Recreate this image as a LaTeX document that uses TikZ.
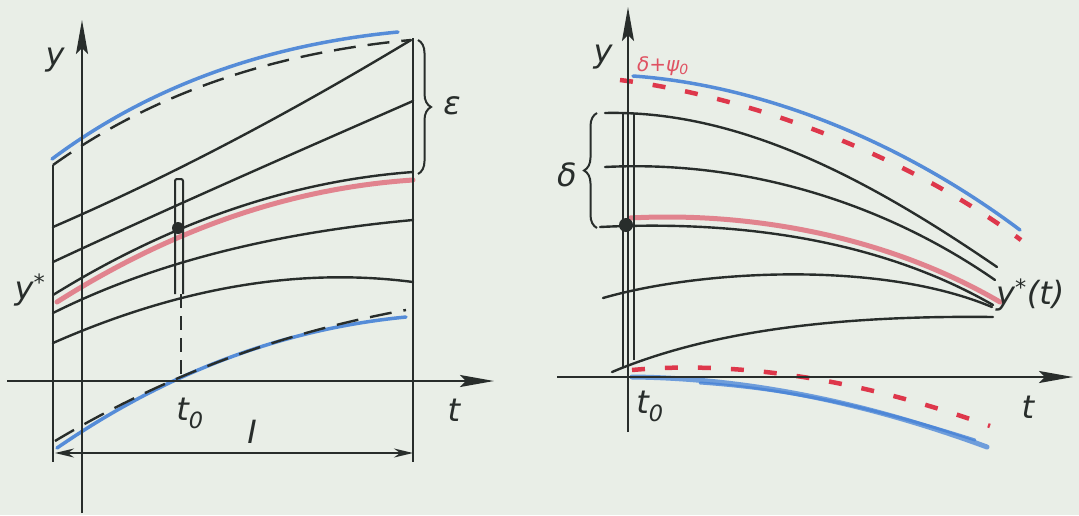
\documentclass[tikz,border=0pt]{standalone}
\usepackage{fontspec}
\newfontfamily\lab{DejaVu Sans}
\usetikzlibrary{arrows.meta,decorations.pathreplacing}
\definecolor{paper}{RGB}{233,238,231}
\definecolor{ink}{RGB}{40,45,43}
\definecolor{pen}{RGB}{70,130,215}
\definecolor{redpen}{RGB}{222,55,75}
\definecolor{redhl}{RGB}{222,75,95}
\begin{document}
\begin{tikzpicture}[x=1pt,y=-1pt,
  axis/.style={ink, line width=2pt, -{Stealth[length=34pt,width=12pt,inset=6pt]}},
  curve/.style={ink, line width=2.4pt, line cap=round},
  dashcurve/.style={ink, line width=2.4pt, dash pattern=on 22pt off 12pt},
  vdash/.style={ink, line width=2pt, dash pattern=on 14pt off 8pt},
  bluepen/.style={pen, line width=3.5pt, line cap=round, opacity=0.9},
  redhigh/.style={redhl, line width=5pt, opacity=0.65, line cap=round},
  reddash/.style={redpen, line width=4.5pt, dash pattern=on 13pt off 20pt},
  bnd/.style={ink, line width=2pt},
  lbl/.style={font=\lab\itshape\fontsize{32}{32}\selectfont, text=ink, inner sep=0pt},
  dotmark/.style={circle, fill=ink, inner sep=0pt, minimum size=12pt},
  bracestyle/.style={ink, line width=2pt, decorate, decoration={brace, amplitude=13pt}},
  dimarrow/.style={ink, line width=2pt, {Stealth[length=19pt,width=9pt]}-{Stealth[length=19pt,width=9pt]}},
]
\useasboundingbox (0,0) rectangle (1079,515);
\fill[paper] (0,0) rectangle (1079,515);

% ===== LEFT PANEL =====
\coordinate (lyb) at (82,513);
\coordinate (lyt) at (82,20);
\coordinate (ltl) at (7,381);
\coordinate (ltr) at (494,381);
\coordinate (lbt) at (53,165);
\coordinate (lbb) at (53,462);
\coordinate (rbt) at (413,38);
\coordinate (rbb) at (413,462);
\coordinate (il) at (55,453);
\coordinate (ir) at (413,453);

% coloured highlights first
\draw[redhigh] (57,302) .. controls (172,229) and (291,188) .. (413,180);
\draw[bluepen] (52,159) .. controls (147,88) and (263,45) .. (398,32);
\draw[bluepen] (57,448) .. controls (166,373) and (282,329) .. (406,317);

% axes
\draw[axis] (lyb) -- (lyt);
\draw[axis] (ltl) -- (ltr);
\draw[bnd] (lbt) -- (lbb);
\draw[bnd] (rbt) -- (rbb);
\draw[dimarrow] (il) -- (ir);

% family of curves
\coordinate (a1) at (53,227); \coordinate (b1) at (411,40);
\coordinate (a2) at (53,262); \coordinate (b2) at (413,101);
\coordinate (a3) at (53,295); \coordinate (b3) at (413,172);
\coordinate (a4) at (53,313); \coordinate (b4) at (413,220);
\coordinate (a5) at (53,343); \coordinate (b5) at (413,282);
\draw[curve] (a1) .. controls (171,176) and (290,113) .. (b1);
\draw[curve] (a2) .. controls (171,207) and (292,154) .. (b2);
\draw[curve] (a3) .. controls (171,222) and (291,181) .. (b3);
\draw[curve] (a4) .. controls (151,264) and (271,233) .. (b4);
\draw[curve] (a5) .. controls (178,288) and (298,267) .. (b5);
\draw[dashcurve] (lbt) .. controls (151,95) and (270,53) .. (b1);
\coordinate (ldl) at (55,441); \coordinate (ldr) at (406,310);
\draw[dashcurve] (ldl) .. controls (162,377) and (279,333) .. (ldr);

% tube at t0
\draw[bnd, rounded corners=2pt] (175,294) -- (175,179) -- (183,179) -- (183,294);
\coordinate (t0top) at (181,294);
\coordinate (t0bot) at (181,381);
\draw[vdash] (t0top) -- (t0bot);
\node[dotmark] (ldot) at (178,228) {};

% epsilon brace
\draw[bracestyle] (418,40) -- (418,174);

% labels
\node[lbl] (ly) at (55,60) {y};
\node[lbl] (lys) at (30,290) {y\textsuperscript{*}};
\node[lbl] (lt0) at (190,413) {t\textsubscript{0}};
\node[lbl] (lt) at (454,410) {t};
\node[lbl] (lI) at (252,432) {I};
\node[lbl] (leps) at (452,106) {ε};

% ===== RIGHT PANEL =====
\coordinate (ryb) at (628,432);
\coordinate (ryt) at (628,7);
\coordinate (rtl) at (557,377);
\coordinate (rtr) at (1073,377);

% coloured highlights
\draw[redhigh] (630,218) .. controls (740,212) and (880,232) .. (1000,302);
\draw[bluepen] (633,76) .. controls (760,85) and (900,140) .. (1020,230);
\draw[bluepen, line width=5pt, opacity=0.75] (632,377) .. controls (740,378) and (860,400) .. (987,447);
\draw[bluepen, line width=3pt, opacity=0.8] (700,383) .. controls (800,390) and (880,410) .. (975,440);
\draw[reddash] (620,80) .. controls (740,95) and (900,150) .. (1021,240);
\draw[reddash] (632,370) .. controls (720,362) and (840,372) .. (990,426);

\draw[axis] (ryb) -- (ryt);
\draw[axis] (rtl) -- (rtr);
\draw[bnd] (623,113) -- (623,367);
\draw[bnd] (634,113) -- (634,360);

\coordinate (c1a) at (605,113); \coordinate (c1b) at (997,267);
\coordinate (c2a) at (605,167); \coordinate (c2b) at (995,280);
\coordinate (c3a) at (600,227); \coordinate (c3b) at (993,305);
\coordinate (c4a) at (603,298); \coordinate (c4b) at (992,307);
\coordinate (c5a) at (612,372); \coordinate (c5b) at (993,317);
\draw[curve] (c1a) .. controls (740,110) and (870,180) .. (c1b);
\draw[curve] (c2a) .. controls (740,160) and (880,200) .. (c2b);
\draw[curve] (c3a) .. controls (740,220) and (880,240) .. (c3b);
\draw[curve] (c4a) .. controls (700,270) and (880,260) .. (c4b);
\draw[curve] (c5a) .. controls (700,335) and (820,315) .. (c5b);
\node[dotmark, minimum size=14pt] (rdot) at (626,225) {};

% delta brace
\draw[bracestyle] (597,228) -- (597,113);

% labels
\node[lbl] (ry) at (603,57) {y};
\node[lbl] (rdelta) at (567,175) {δ};
\node[lbl] (rt0) at (650,406) {t\textsubscript{0}};
\node[lbl] (rt) at (1028,407) {t};
\node[lbl, anchor=west] (rys) at (996,295) {y\textsuperscript{*}(t)};
\node[font=\lab\itshape\fontsize{20}{20}\selectfont, text=redpen, inner sep=0pt, opacity=0.85] (rlab) at (663,66) {δ+ψ\textsubscript{0}};
\end{tikzpicture}
\end{document}
